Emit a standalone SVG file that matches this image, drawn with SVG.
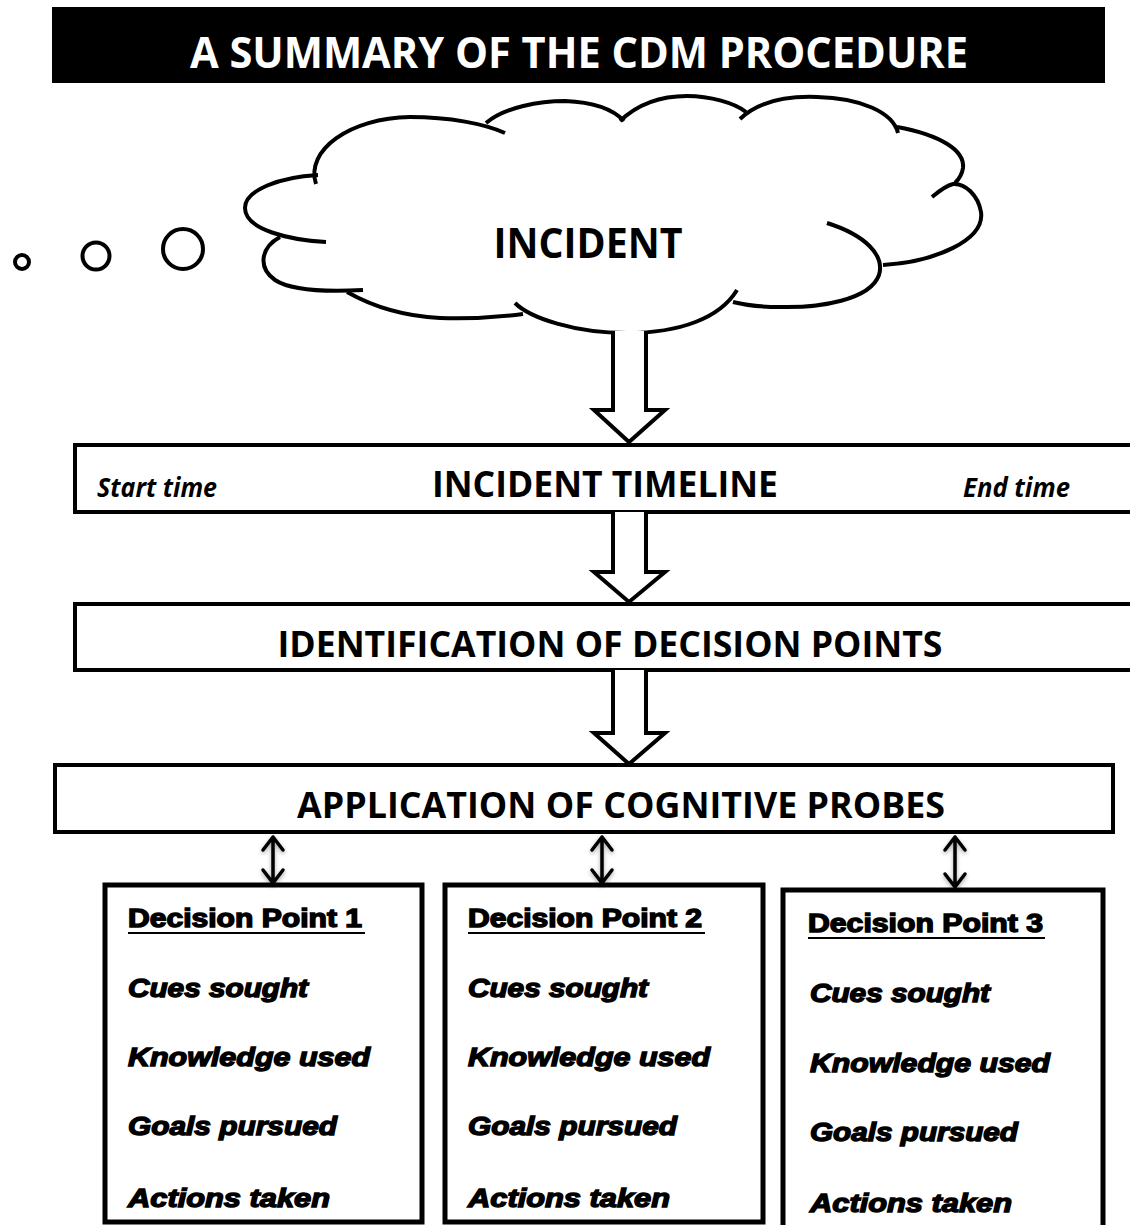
<svg xmlns="http://www.w3.org/2000/svg" width="1130" height="1225" viewBox="0 0 1130 1225">
<style>
.hd{font-family:"Open Sans","Liberation Sans",sans-serif;font-weight:bold;fill:#000}
.ti{font-family:"Open Sans","Liberation Sans",sans-serif;font-weight:bold;font-style:italic;fill:#000}
.dp{font-family:"Liberation Sans",Arial,sans-serif;font-weight:bold;fill:#000;stroke:#000;stroke-width:1.4}
.it{font-family:"Liberation Sans",Arial,sans-serif;font-weight:bold;font-style:italic;fill:#000;stroke:#000;stroke-width:1.4}
.box{fill:#fff;stroke:#000;stroke-width:4}
.dbox{fill:#fff;stroke:#000;stroke-width:5}
.lobe{fill:none;stroke:#000;stroke-width:4}
.blk{fill:#fff;stroke:#000;stroke-width:4;stroke-linejoin:miter}
.dbl{fill:none;stroke:#000;stroke-width:3.5;stroke-linecap:round;stroke-linejoin:round}
</style>
<defs>
<filter id="sh" x="-50%" y="-20%" width="200%" height="140%">
<feDropShadow dx="0" dy="2" stdDeviation="2" flood-color="#000" flood-opacity="0.35"/>
</filter>
</defs>

<g id="title">
<rect x="52" y="7" width="1053" height="76" fill="#000"/>
<text x="579" y="68" class="hd" style="fill:#fff" font-size="43" text-anchor="middle" textLength="778" lengthAdjust="spacingAndGlyphs">A SUMMARY OF THE CDM PROCEDURE</text>
</g>

<g id="thought-bubbles">
<circle cx="22" cy="262" r="7" fill="none" stroke="#000" stroke-width="4"/>
<circle cx="96" cy="256" r="13.5" fill="none" stroke="#000" stroke-width="4"/>
<circle cx="183" cy="249" r="20" fill="none" stroke="#000" stroke-width="4"/>
</g>

<g id="incident">
<path class="lobe" d="M326,242 C290,240 245,230 245,208 C245,190 280,177 318,175"/>
<path class="lobe" d="M316,184 C305,150 350,118 410,117 C450,117 485,124 505,133"/>
<path class="lobe" d="M486,123 C505,107 540,101 565,101 C590,102 612,108 624,121"/>
<path class="lobe" d="M620,121 C640,102 665,96 687,96 C710,96 735,103 746,112"/>
<path class="lobe" d="M740,119 C760,100 790,96 817,97 C860,98 893,112 898,133"/>
<path class="lobe" d="M897,127 C940,135 965,150 963,168 C962,175 958,180 955,183"/>
<path class="lobe" d="M883,265 C935,262 985,240 981,212 C978,195 965,183 953,184 C945,186 938,192 932,197"/>
<path class="lobe" d="M827,223 C865,235 885,255 879,275 C870,300 820,308 780,307 C760,307 745,305 733,302"/>
<path class="lobe" d="M515,303 C530,318 575,333 627,333 C680,333 720,318 737,290"/>
<path class="lobe" d="M347,292 C370,305 400,316 440,318 C470,319 500,317 523,314"/>
<path class="lobe" d="M280,237 C260,248 258,268 275,280 C290,290 325,292 363,290"/>
<text x="588" y="258" class="hd" font-size="42" text-anchor="middle" textLength="189" lengthAdjust="spacingAndGlyphs">INCIDENT</text>
</g>

<g id="timeline">
<rect class="box" x="75" y="445" width="1080" height="67"/>
<text x="97" y="497" class="ti" font-size="26" textLength="120" lengthAdjust="spacingAndGlyphs">Start time</text>
<text x="605" y="497" class="hd" font-size="36" text-anchor="middle" textLength="346" lengthAdjust="spacingAndGlyphs">INCIDENT TIMELINE</text>
<text x="963" y="497" class="ti" font-size="26" textLength="107" lengthAdjust="spacingAndGlyphs">End time</text>
</g>

<g id="decision-points">
<rect class="box" x="75" y="604" width="1080" height="66"/>
<text x="610" y="657" class="hd" font-size="36" text-anchor="middle" textLength="665" lengthAdjust="spacingAndGlyphs">IDENTIFICATION OF DECISION POINTS</text>
</g>

<g id="cognitive-probes">
<rect class="box" x="55" y="765" width="1058" height="67"/>
<text x="621" y="818" class="hd" font-size="36" text-anchor="middle" textLength="648" lengthAdjust="spacingAndGlyphs">APPLICATION OF COGNITIVE PROBES</text>
</g>

<g id="dp1">
<rect class="dbox" x="105" y="885" width="317" height="337"/>
<text x="128" y="927" class="dp" font-size="25" textLength="234" lengthAdjust="spacingAndGlyphs">Decision Point 1</text>
<line x1="128" y1="933" x2="365" y2="933" stroke="#000" stroke-width="2"/>
<text x="128" y="997" class="it" font-size="26" textLength="180" lengthAdjust="spacingAndGlyphs">Cues sought</text>
<text x="128" y="1066" class="it" font-size="26" textLength="242" lengthAdjust="spacingAndGlyphs">Knowledge used</text>
<text x="128" y="1135" class="it" font-size="26" textLength="209" lengthAdjust="spacingAndGlyphs">Goals pursued</text>
<text x="128" y="1207" class="it" font-size="26" textLength="202" lengthAdjust="spacingAndGlyphs">Actions taken</text>
</g>

<g id="dp2">
<rect class="dbox" x="445" y="885" width="318" height="337"/>
<text x="468" y="927" class="dp" font-size="25" textLength="234" lengthAdjust="spacingAndGlyphs">Decision Point 2</text>
<line x1="468" y1="933" x2="705" y2="933" stroke="#000" stroke-width="2"/>
<text x="468" y="997" class="it" font-size="26" textLength="180" lengthAdjust="spacingAndGlyphs">Cues sought</text>
<text x="468" y="1066" class="it" font-size="26" textLength="242" lengthAdjust="spacingAndGlyphs">Knowledge used</text>
<text x="468" y="1135" class="it" font-size="26" textLength="209" lengthAdjust="spacingAndGlyphs">Goals pursued</text>
<text x="468" y="1207" class="it" font-size="26" textLength="202" lengthAdjust="spacingAndGlyphs">Actions taken</text>
</g>

<g id="dp3">
<rect class="dbox" x="783" y="890" width="320" height="345"/>
<text x="808" y="932" class="dp" font-size="25" textLength="235" lengthAdjust="spacingAndGlyphs">Decision Point 3</text>
<line x1="808" y1="938" x2="1045" y2="938" stroke="#000" stroke-width="2"/>
<text x="810" y="1002" class="it" font-size="26" textLength="180" lengthAdjust="spacingAndGlyphs">Cues sought</text>
<text x="810" y="1072" class="it" font-size="26" textLength="240" lengthAdjust="spacingAndGlyphs">Knowledge used</text>
<text x="810" y="1141" class="it" font-size="26" textLength="208" lengthAdjust="spacingAndGlyphs">Goals pursued</text>
<text x="810" y="1212" class="it" font-size="26" textLength="202" lengthAdjust="spacingAndGlyphs">Actions taken</text>
</g>

<g id="connectors">
<path class="blk" d="M613,331 V410 H594 L629,442 L665,410 H646 V331"/>
<path class="blk" d="M613,512 V572 H594 L629,602 L665,572 H646 V512"/>
<path class="blk" d="M613,670 V733 H594 L629,764 L665,733 H646 V670"/>
<g class="dbl" filter="url(#sh)">
<path d="M273,837 V883 M263,850 L273,837 L283,850 M263,870 L273,883 L283,870"/>
<path d="M602,837 V883 M592,850 L602,837 L612,850 M592,870 L602,883 L612,870"/>
<path d="M955,837 V887 M945,850 L955,837 L965,850 M945,874 L955,887 L965,874"/>
</g>
</g>
</svg>
